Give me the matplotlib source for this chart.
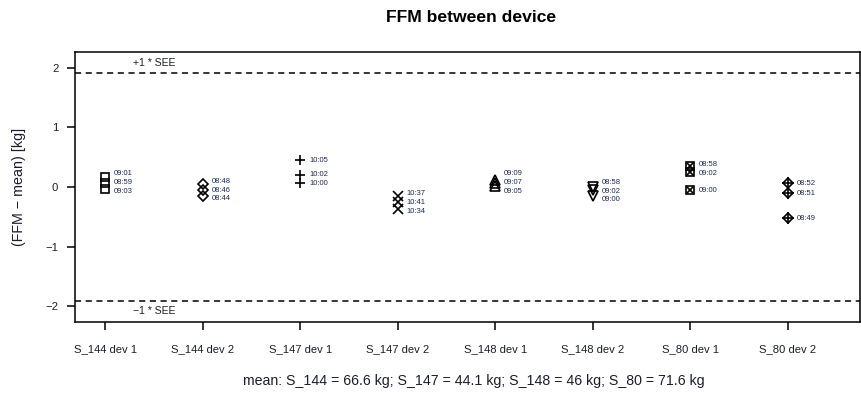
import matplotlib
matplotlib.use("Agg")
import matplotlib.pyplot as plt
import numpy as np

plt.rcParams['font.family'] = ['Liberation Sans', 'DejaVu Sans']

categories = ["S_144 dev 1", "S_144 dev 2", "S_147 dev 1", "S_147 dev 2",
              "S_148 dev 1", "S_148 dev 2", "S_80 dev 1", "S_80 dev 2"]

values = [
    [0.17, 0.07, -0.03],
    [0.05, -0.05, -0.15],
    [0.45, 0.21, 0.07],
    [-0.15, -0.25, -0.36],
    [0.12, 0.07, 0.02],
    [0.0, -0.05, -0.15],
    [0.35, 0.25, -0.05],
    [0.06, -0.10, -0.52],
]
times = [
    ["09:01", "08:59", "09:03"],
    ["08:48", "08:46", "08:44"],
    ["10:05", "10:02", "10:00"],
    ["10:37", "10:41", "10:34"],
    ["09:09", "09:07", "09:05"],
    ["08:58", "09:02", "09:00"],
    ["08:58", "09:02", "09:00"],
    ["08:52", "08:51", "08:49"],
]
see = 1.92
title = "FFM between device"
xlabel = "mean: S_144 = 66.6 kg; S_147 = 44.1 kg; S_148 = 46 kg; S_80 = 71.6 kg"
ylabel = "(FFM \u2212 mean) [kg]"

# marker styles (R pch 0,5,3,4,2,6,7,9)
styles = [
    [dict(marker='s')],
    [dict(marker='D')],
    [dict(marker='+')],
    [dict(marker='x')],
    [dict(marker='^')],
    [dict(marker='v')],
    [dict(marker='s'), dict(marker='x', ms_scale=0.7)],
    [dict(marker='D'), dict(marker='+', ms_scale=1.3)],
]

fig = plt.figure(figsize=(8.62, 3.94), dpi=100)
ax = fig.add_axes([0.087, 0.1835, 0.9107, 0.6835])
ink = '#1c1c30'

def spread(vals, gap=0.15):
    order = np.argsort(vals)[::-1]
    v = np.array(vals, dtype=float)[order]
    pos = v.copy()
    for _ in range(50):
        changed = False
        for i in range(1, len(pos)):
            if pos[i - 1] - pos[i] < gap:
                mid = (pos[i - 1] + pos[i]) / 2
                pos[i - 1] = mid + gap / 2
                pos[i] = mid - gap / 2
                changed = True
        if not changed:
            break
    out = np.empty_like(pos)
    out[order] = pos
    return out

for i, (vals, labs) in enumerate(zip(values, times)):
    x = np.full(len(vals), i + 1)
    for st in styles[i]:
        m = st['marker']
        scale = st.get('ms_scale', 1.0)
        ms = 5.8 if m == 's' else (5.2 if m == 'D' else 7.0)
        ax.plot(x, vals, linestyle='none', marker=m, markersize=ms * scale,
                markerfacecolor='none', markeredgecolor='black',
                markeredgewidth=1.2, zorder=3)
    lp = spread(vals)
    for v, lab in zip(lp, labs):
        ax.text(i + 1 + 0.09, v, lab, fontsize=5.5, color='#1a2a5a',
                ha='left', va='center')

ax.axhline(see, color='black', linestyle=(0, (4, 3)), linewidth=1.1)
ax.axhline(-see, color='black', linestyle=(0, (4, 3)), linewidth=1.1)
ax.text(1.5, see + 0.08, "+1 * SEE", fontsize=7.5, ha='center', va='bottom', color=ink)
ax.text(1.5, -see - 0.08, "\u22121 * SEE", fontsize=7.5, ha='center', va='top', color=ink)

ax.set_xlim(0.69, 8.74)
ax.set_ylim(-2.26, 2.26)
ax.set_xticks(range(1, len(categories) + 1))
ax.set_xticklabels(categories)
ax.set_yticks([-2, -1, 0, 1, 2])
ax.set_yticklabels(["\u22122", "\u22121", "0", "1", "2"])
ax.tick_params(axis='both', direction='out', length=6, width=1.1,
               labelsize=8.1, colors='black', labelcolor=ink)
ax.tick_params(axis='x', pad=10)
ax.tick_params(axis='y', pad=6)
for s in ax.spines.values():
    s.set_linewidth(1.1)

fig.text(0.5465, 0.955, title, fontsize=12.6, fontweight='bold',
         ha='center', va='center', color='black')
fig.text(0.5495, 0.033, xlabel, fontsize=10.2, ha='center', va='center', color=ink)
fig.text(0.022, 0.525, ylabel, fontsize=10.3, rotation=90, ha='center', va='center', color=ink)

fig.savefig("out.png", dpi=100)
